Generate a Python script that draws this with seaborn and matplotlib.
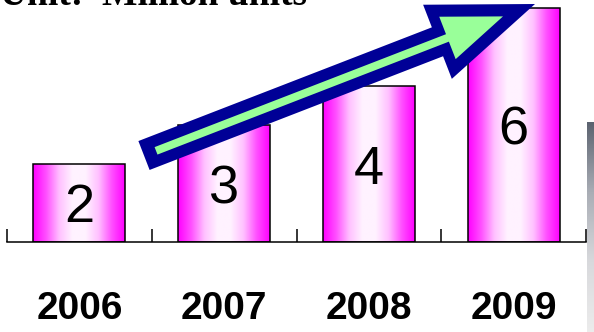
import numpy as np
import pandas as pd
import matplotlib
matplotlib.use("Agg")
import matplotlib.pyplot as plt
import seaborn as sns
from matplotlib.patches import FancyArrow
from matplotlib.colors import LinearSegmentedColormap

years = ["2006", "2007", "2008", "2009"]
values = [2, 3, 4, 6]
title = "Unit:  Million units"

sns.set_theme(style="white")
plt.rcParams['font.family'] = ['Liberation Sans', 'DejaVu Sans']
plt.rcParams['text.color'] = 'black'
plt.rcParams['xtick.color'] = 'black'
plt.rcParams['axes.labelcolor'] = 'black'

W, H = 594, 332
fig = plt.figure(figsize=(W / 100, H / 100), dpi=100)
fig.patch.set_facecolor("white")

ax = fig.add_axes([7 / W, 90 / H, (586 - 7) / W, 242 / H])
df = pd.DataFrame({"year": years, "value": values})
sns.barplot(data=df, x="year", y="value", width=0.635, ax=ax,
            color="#ff00ff", edgecolor="black", linewidth=1.1, saturation=1)

# horizontal magenta-white-magenta gradient in each bar
cmap = LinearSegmentedColormap.from_list(
    "mg", ["#ff00ff", "#ff50ff", "#ffc0ff", "#fff2ff", "#fff2ff", "#ffc0ff", "#ff50ff", "#ff00ff"])
xs = np.linspace(0, 1, 256)
prof = cmap(xs)[None, :, :]
for p in list(ax.patches):
    x0, y0 = p.get_x(), p.get_y()
    w, h = p.get_width(), p.get_height()
    im = ax.imshow(prof, extent=[x0, x0 + w, y0, y0 + h], aspect="auto",
                   zorder=p.get_zorder() - 0.1, interpolation="bilinear")
    im.set_clip_path(p)
    p.set_facecolor("none")

for i, v in enumerate(values):
    ax.text(i, v / 2, str(v), ha="center", va="center_baseline", fontsize=39,
            color="black", family="Liberation Sans", zorder=5)

ax.set_xlim(-0.5, 3.5)
ax.set_ylim(0, 242 / 39)
ax.set_xlabel("")
ax.set_ylabel("")
ax.set_yticks([])
for s in ["left", "top", "right"]:
    ax.spines[s].set_visible(False)
ax.spines["bottom"].set_linewidth(1.1)
ax.spines["bottom"].set_color("black")
ax.set_xticks(range(len(years)))
ax.set_xticklabels(years, fontsize=28, fontweight="bold", family="Liberation Sans",
                   color="black")
ax.set_xticks([-0.5, 0.5, 1.5, 2.5, 3.5], minor=True)
ax.tick_params(axis="x", which="major", length=0, pad=35)
ax.tick_params(axis="x", which="minor", direction="in", length=9.5, width=1.1,
               color="black", bottom=True)
ax.patch.set_alpha(0)

# overlay for decorations in pixel coordinates
ov = fig.add_axes([0, 0, 1, 1], zorder=10)
ov.set_xlim(0, W)
ov.set_ylim(H, 0)
ov.axis("off")
ov.patch.set_alpha(0)

# gray gradient strip on the right (dark at top, light at bottom)
g = np.linspace(0, 1, 200)[:, None]
gcm = LinearSegmentedColormap.from_list("gr", ["#5c6370", "#a9adb5", "#d8d9dc", "#ececec"])
ov.imshow(gcm(g), extent=[587, 594, 332, 122], aspect="auto", origin="upper",
          interpolation="bilinear")
ov.set_xlim(0, W)
ov.set_ylim(H, 0)

# trend arrow
tail = np.array([144.0, 155.5])
tip = np.array([535.0, 4.0])
vec = tip - tail
L = np.hypot(*vec)
u = vec / L
ov.add_patch(FancyArrow(tail[0], tail[1], vec[0], vec[1], width=31, head_width=79.5,
                        head_length=104.6, length_includes_head=True,
                        color="#000096", lw=0))
s_in = tail + 12.9 * u
L_in = L - 34.3 - 12.9
d_in = u * L_in
ov.add_patch(FancyArrow(s_in[0], s_in[1], d_in[0], d_in[1], width=8, head_width=45.5,
                        head_length=59.6, length_includes_head=True,
                        color="#99ff99", lw=0))

fig.text(0, 1 - 5 / H, title, fontsize=27, fontweight="bold", color="black",
         family="Liberation Serif", ha="left", va="baseline")

fig.savefig("out.png", dpi=100)
